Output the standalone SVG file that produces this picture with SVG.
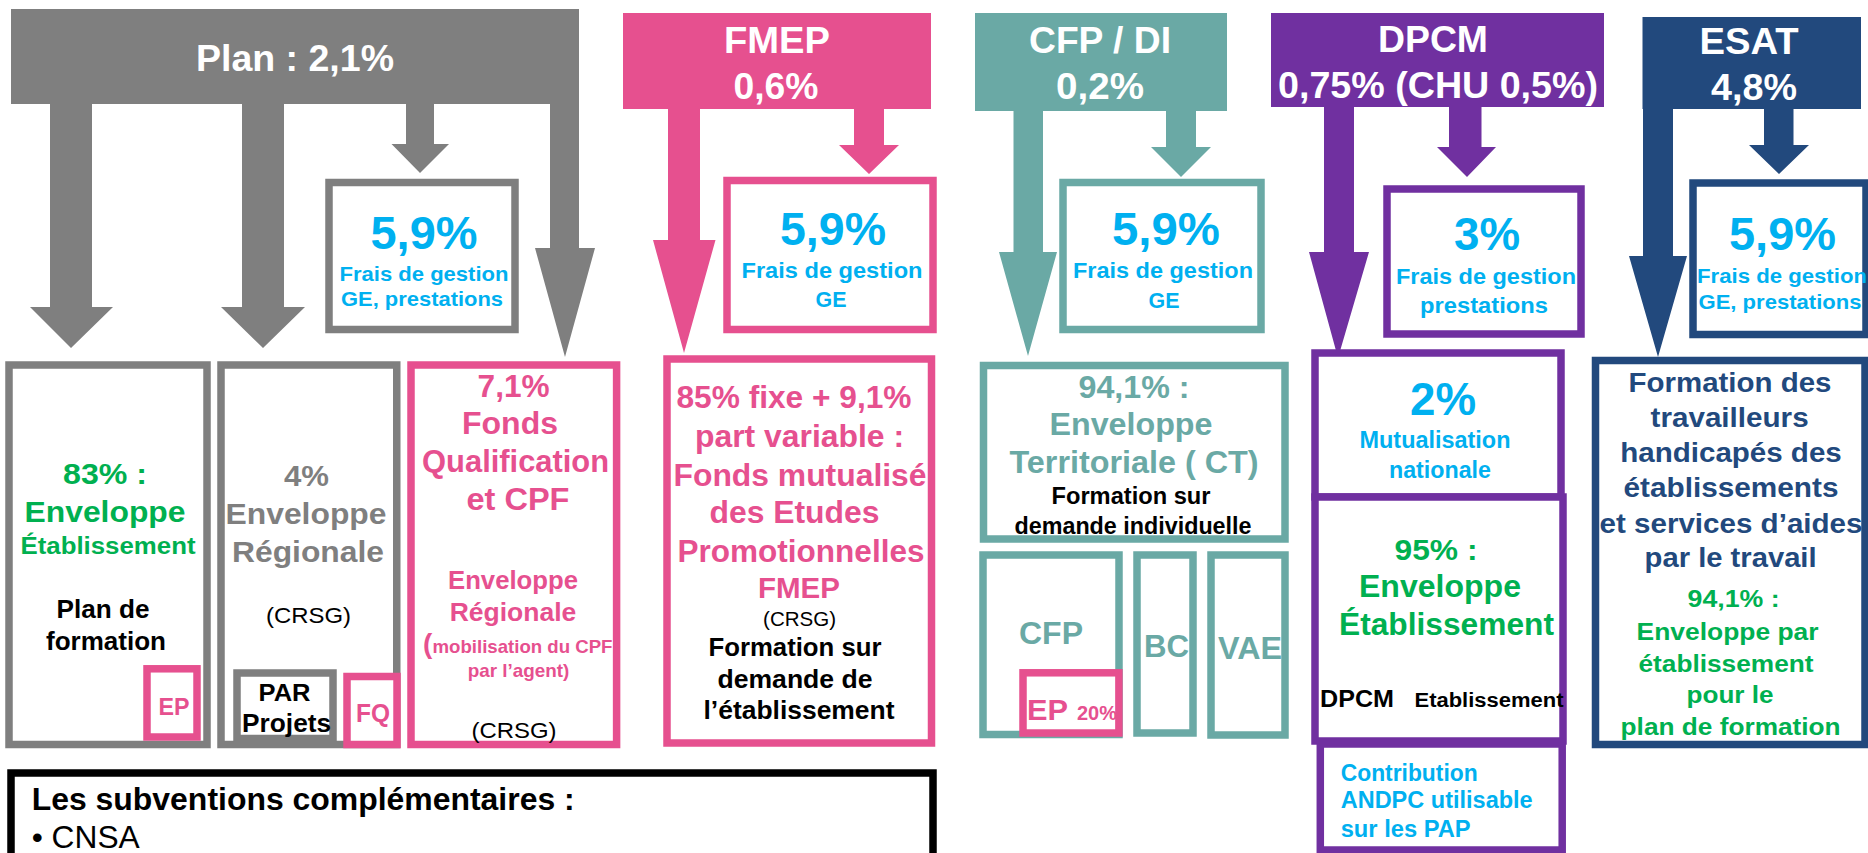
<svg xmlns="http://www.w3.org/2000/svg" width="1868" height="853" viewBox="0 0 1868 853">
<style>
text{font-family:"Liberation Sans",Arial,sans-serif;font-weight:bold;text-anchor:middle}
.r{font-weight:normal}
.st{text-anchor:start}
.box{fill:#fff;stroke-width:7.5}
.wt{fill:#fff;font-size:37px}
.bl{fill:#00B0F0}
.gn{fill:#00B050}
.k{fill:#000}
.gyt{fill:#7F7F7F}
.pkt{fill:#E6508F}
.tlt{fill:#6AA9A5}
.nvt{fill:#22497D}
.gy{stroke:#7F7F7F}
.pk{stroke:#E6508F}
.tl{stroke:#6AA9A5}
.pu{stroke:#7030A0}
.nv{stroke:#22497D}
.bk{stroke:#000}
</style>

<g id="plan-banner">
<rect x="11" y="9" width="568" height="95" fill="#7F7F7F"/>
<text class="wt" x="295" y="71" textLength="198" lengthAdjust="spacingAndGlyphs">Plan : 2,1%</text>
</g>
<g id="fmep-banner">
<rect x="623" y="13" width="308" height="96" fill="#E6508F"/>
<text class="wt" x="777" y="53" textLength="106" lengthAdjust="spacingAndGlyphs">FMEP</text>
<text class="wt" x="776" y="99" textLength="85" lengthAdjust="spacingAndGlyphs">0,6%</text>
</g>
<g id="cfp-banner">
<rect x="975" y="13" width="252" height="98" fill="#6AA9A5"/>
<text class="wt" x="1100" y="53" textLength="142" lengthAdjust="spacingAndGlyphs">CFP / DI</text>
<text class="wt" x="1100" y="99" textLength="88" lengthAdjust="spacingAndGlyphs">0,2%</text>
</g>
<g id="dpcm-banner">
<rect x="1271" y="13" width="333" height="94" fill="#7030A0"/>
<text class="wt" x="1433" y="52" textLength="110" lengthAdjust="spacingAndGlyphs">DPCM</text>
<text class="wt" x="1438" y="98" textLength="320" lengthAdjust="spacingAndGlyphs">0,75% (CHU 0,5%)</text>
</g>
<g id="esat-banner">
<rect x="1642.5" y="17" width="218.5" height="92" fill="#22497D"/>
<text class="wt" x="1749" y="54" textLength="99" lengthAdjust="spacingAndGlyphs">ESAT</text>
<text class="wt" x="1754" y="100" textLength="86" lengthAdjust="spacingAndGlyphs">4,8%</text>
</g>

<g id="connectors">
<polygon fill="#7F7F7F" points="50,104 92,104 92,307 113,307 71,348 30,307 50,307"/>
<polygon fill="#7F7F7F" points="242,104 284,104 284,307 305,307 263,348 221,307 242,307"/>
<polygon fill="#7F7F7F" points="406,104 434,104 434,144 449,144 420,173 391.5,144 406,144"/>
<polygon fill="#7F7F7F" points="550,104 579,104 579,248 595,248 565,357 535,248 550,248"/>
<polygon fill="#E6508F" points="668,109 700,109 700,240 715.5,240 684,353 653,240 668,240"/>
<polygon fill="#E6508F" points="854,109 884,109 884,145 899,145 869,174 839,145 854,145"/>
<polygon fill="#6AA9A5" points="1013.5,111 1043,111 1043,252 1057,252 1028,356 999,252 1013.5,252"/>
<polygon fill="#6AA9A5" points="1166,111 1196,111 1196,147 1211,147 1181,177 1151,147 1166,147"/>
<polygon fill="#7030A0" points="1324,107 1354,107 1354,252 1369,252 1338,358 1309,252 1324,252"/>
<polygon fill="#7030A0" points="1449,107 1481.5,107 1481.5,147 1496,147 1467,177 1437,147 1449,147"/>
<polygon fill="#22497D" points="1643,109 1673,109 1673,256 1687,256 1658,357 1629,256 1643,256"/>
<polygon fill="#22497D" points="1764,109 1793.5,109 1793.5,145 1809,145 1779,174 1749,145 1764,145"/>
</g>

<g id="plan-frais">
<rect class="box gy" x="329" y="182.5" width="186" height="147"/>
<text class="bl" x="424" y="249" font-size="46" textLength="107" lengthAdjust="spacingAndGlyphs">5,9%</text>
<text class="bl" x="424" y="281" font-size="21" textLength="169" lengthAdjust="spacingAndGlyphs">Frais de gestion</text>
<text class="bl" x="422" y="306" font-size="21" textLength="162" lengthAdjust="spacingAndGlyphs">GE, prestations</text>
</g>
<g id="fmep-frais">
<rect class="box pk" x="727" y="180.5" width="206" height="149"/>
<text class="bl" x="833" y="245" font-size="46" textLength="106" lengthAdjust="spacingAndGlyphs">5,9%</text>
<text class="bl" x="832" y="278" font-size="22" textLength="181" lengthAdjust="spacingAndGlyphs">Frais de gestion</text>
<text class="bl" x="831" y="307" font-size="22" textLength="31" lengthAdjust="spacingAndGlyphs">GE</text>
</g>
<g id="cfp-frais">
<rect class="box tl" x="1063" y="182.5" width="198" height="147"/>
<text class="bl" x="1166" y="245" font-size="46" textLength="108" lengthAdjust="spacingAndGlyphs">5,9%</text>
<text class="bl" x="1163" y="278" font-size="22" textLength="180" lengthAdjust="spacingAndGlyphs">Frais de gestion</text>
<text class="bl" x="1164" y="308" font-size="22" textLength="31" lengthAdjust="spacingAndGlyphs">GE</text>
</g>
<g id="dpcm-frais">
<rect class="box pu" x="1387" y="189" width="194" height="145"/>
<text class="bl" x="1487" y="250" font-size="46" textLength="66" lengthAdjust="spacingAndGlyphs">3%</text>
<text class="bl" x="1486" y="284" font-size="22" textLength="180" lengthAdjust="spacingAndGlyphs">Frais de gestion</text>
<text class="bl" x="1484" y="313" font-size="22" textLength="128" lengthAdjust="spacingAndGlyphs">prestations</text>
</g>
<g id="esat-frais">
<rect class="box nv" x="1693" y="183" width="173" height="151.5"/>
<text class="bl" x="1782.5" y="250" font-size="46" textLength="107" lengthAdjust="spacingAndGlyphs">5,9%</text>
<text class="bl" x="1782" y="283" font-size="21" textLength="170" lengthAdjust="spacingAndGlyphs">Frais de gestion</text>
<text class="bl" x="1780" y="309" font-size="21" textLength="163" lengthAdjust="spacingAndGlyphs">GE, prestations</text>
</g>

<g id="enveloppe-etablissement">
<rect class="box gy" x="9" y="365" width="198" height="379.5"/>
<text class="gn" x="105" y="484" font-size="30" textLength="84" lengthAdjust="spacingAndGlyphs">83% :</text>
<text class="gn" x="105" y="522" font-size="30" textLength="161" lengthAdjust="spacingAndGlyphs">Enveloppe</text>
<text class="gn" x="108" y="554" font-size="23" textLength="175" lengthAdjust="spacingAndGlyphs">Établissement</text>
<text class="k" x="103" y="618" font-size="25" textLength="93" lengthAdjust="spacingAndGlyphs">Plan de</text>
<text class="k" x="106" y="650" font-size="25" textLength="120" lengthAdjust="spacingAndGlyphs">formation</text>
</g>
<g id="ep-plan">
<rect class="box pk" x="147" y="668.8" width="50" height="68.2"/>
<text class="pkt" x="174" y="715" font-size="24" textLength="31" lengthAdjust="spacingAndGlyphs">EP</text>
</g>

<g id="enveloppe-regionale">
<rect class="box gy" x="221" y="365" width="175.75" height="379.5"/>
<text class="gyt" x="306.5" y="486" font-size="30" textLength="45" lengthAdjust="spacingAndGlyphs">4%</text>
<text class="gyt" x="306" y="524" font-size="30" textLength="161" lengthAdjust="spacingAndGlyphs">Enveloppe</text>
<text class="gyt" x="308" y="562" font-size="30" textLength="152" lengthAdjust="spacingAndGlyphs">Régionale</text>
<text class="k r" x="308.5" y="623" font-size="22" textLength="85" lengthAdjust="spacingAndGlyphs">(CRSG)</text>
</g>
<g id="par-projets">
<rect class="box gy" x="237" y="673" width="96" height="65.5"/>
<text class="k" x="284.5" y="701" font-size="24" textLength="52" lengthAdjust="spacingAndGlyphs">PAR</text>
<text class="k" x="286.6" y="732" font-size="25" textLength="89" lengthAdjust="spacingAndGlyphs">Projets</text>
</g>
<g id="fq">
<rect class="box pk" x="347" y="676.5" width="50" height="68"/>
<text class="pkt" x="373" y="722" font-size="25" textLength="34" lengthAdjust="spacingAndGlyphs">FQ</text>
</g>

<g id="fonds-qualification">
<rect class="box pk" x="411" y="365" width="205.6" height="379.5"/>
<text class="pkt" x="513.6" y="397" font-size="31" textLength="72" lengthAdjust="spacingAndGlyphs">7,1%</text>
<text class="pkt" x="510" y="434" font-size="31" textLength="96" lengthAdjust="spacingAndGlyphs">Fonds</text>
<text class="pkt" x="515.6" y="472" font-size="31" textLength="187" lengthAdjust="spacingAndGlyphs">Qualification</text>
<text class="pkt" x="518" y="510" font-size="31" textLength="103" lengthAdjust="spacingAndGlyphs">et CPF</text>
<text class="pkt" x="513" y="589" font-size="26" textLength="130" lengthAdjust="spacingAndGlyphs">Enveloppe</text>
<text class="pkt" x="513" y="621" font-size="26" textLength="126.5" lengthAdjust="spacingAndGlyphs">Régionale</text>
<text class="pkt st" x="423" y="653" font-size="19"><tspan font-size="28">(</tspan><tspan x="432.5" textLength="180" lengthAdjust="spacingAndGlyphs">mobilisation du CPF</tspan></text>
<text class="pkt" x="518.6" y="677" font-size="19" textLength="101.6" lengthAdjust="spacingAndGlyphs">par l’agent)</text>
<text class="k r" x="514" y="738" font-size="22" textLength="85" lengthAdjust="spacingAndGlyphs">(CRSG)</text>
</g>

<g id="fmep-fonds">
<rect class="box pk" x="667" y="359" width="264.5" height="384" stroke-width="8"/>
<text class="pkt" x="794" y="408" font-size="31" textLength="235" lengthAdjust="spacingAndGlyphs">85% fixe + 9,1%</text>
<text class="pkt" x="799.5" y="447" font-size="31" textLength="209" lengthAdjust="spacingAndGlyphs">part variable :</text>
<text class="pkt" x="800" y="486" font-size="31" textLength="253" lengthAdjust="spacingAndGlyphs">Fonds mutualisé</text>
<text class="pkt" x="794.5" y="523" font-size="31" textLength="170" lengthAdjust="spacingAndGlyphs">des Etudes</text>
<text class="pkt" x="801" y="562" font-size="31" textLength="247" lengthAdjust="spacingAndGlyphs">Promotionnelles</text>
<text class="pkt" x="799" y="598" font-size="30" textLength="82" lengthAdjust="spacingAndGlyphs">FMEP</text>
<text class="k r" x="799.6" y="626" font-size="21" textLength="73" lengthAdjust="spacingAndGlyphs">(CRSG)</text>
<text class="k" x="795" y="656" font-size="25" textLength="173" lengthAdjust="spacingAndGlyphs">Formation sur</text>
<text class="k" x="795" y="688" font-size="25" textLength="155" lengthAdjust="spacingAndGlyphs">demande de</text>
<text class="k" x="799" y="719" font-size="25" textLength="191" lengthAdjust="spacingAndGlyphs">l’établissement</text>
</g>

<g id="enveloppe-territoriale">
<rect class="box tl" x="983.5" y="365.5" width="301.5" height="173.5"/>
<text class="tlt" x="1134" y="398" font-size="31" textLength="111" lengthAdjust="spacingAndGlyphs">94,1% :</text>
<text class="tlt" x="1131" y="435" font-size="31" textLength="163" lengthAdjust="spacingAndGlyphs">Enveloppe</text>
<text class="tlt" x="1134" y="473" font-size="31" textLength="249" lengthAdjust="spacingAndGlyphs">Territoriale ( CT)</text>
<text class="k" x="1131" y="504" font-size="23" textLength="159" lengthAdjust="spacingAndGlyphs">Formation sur</text>
<text class="k" x="1133" y="534" font-size="23" textLength="237" lengthAdjust="spacingAndGlyphs">demande individuelle</text>
</g>
<g id="cfp">
<rect class="box tl" x="983" y="555" width="136" height="179.5"/>
<text class="tlt" x="1051" y="644" font-size="31" textLength="64" lengthAdjust="spacingAndGlyphs">CFP</text>
</g>
<g id="ep-cfp">
<rect class="box pk" x="1023" y="672.8" width="95.9" height="60.2"/>
<text class="pkt st" x="1027" y="720" font-size="30" textLength="41" lengthAdjust="spacingAndGlyphs">EP</text>
<text class="pkt st" x="1077" y="720" font-size="20" textLength="40" lengthAdjust="spacingAndGlyphs">20%</text>
</g>
<g id="bc">
<rect class="box tl" x="1137" y="555" width="56" height="178"/>
<text class="tlt st" x="1144" y="657" font-size="31" textLength="45" lengthAdjust="spacingAndGlyphs">BC</text>
</g>
<g id="vae">
<rect class="box tl" x="1211" y="555" width="74" height="180"/>
<text class="tlt st" x="1218" y="659" font-size="31" textLength="64" lengthAdjust="spacingAndGlyphs">VAE</text>
</g>

<g id="mutualisation">
<rect class="box pu" x="1315" y="353" width="246" height="144"/>
<text class="bl" x="1443" y="415" font-size="46" textLength="66" lengthAdjust="spacingAndGlyphs">2%</text>
<text class="bl" x="1435" y="448" font-size="23" textLength="151" lengthAdjust="spacingAndGlyphs">Mutualisation</text>
<text class="bl" x="1440" y="478" font-size="23" textLength="102" lengthAdjust="spacingAndGlyphs">nationale</text>
</g>
<g id="dpcm-etablissement">
<rect class="box pu" x="1315" y="497" width="248" height="244"/>
<text class="gn" x="1436" y="560" font-size="30" textLength="83" lengthAdjust="spacingAndGlyphs">95% :</text>
<text class="gn" x="1440" y="597" font-size="31" textLength="162" lengthAdjust="spacingAndGlyphs">Enveloppe</text>
<text class="gn" x="1446.5" y="635" font-size="31" textLength="215" lengthAdjust="spacingAndGlyphs">Établissement</text>
<text class="k" x="1357" y="707" font-size="24" textLength="74" lengthAdjust="spacingAndGlyphs">DPCM</text>
<text class="k" x="1489" y="707" font-size="20" textLength="149" lengthAdjust="spacingAndGlyphs">Etablissement</text>
</g>
<g id="andpc">
<rect class="box pu" x="1320.3" y="744" width="241.9" height="106" stroke-width="6"/>
<text class="bl st" x="1340.7" y="781" font-size="23" textLength="137" lengthAdjust="spacingAndGlyphs">Contribution</text>
<text class="bl st" x="1340.7" y="808" font-size="23" textLength="192" lengthAdjust="spacingAndGlyphs">ANDPC  utilisable</text>
<text class="bl st" x="1340.7" y="837" font-size="23" textLength="130" lengthAdjust="spacingAndGlyphs">sur les PAP</text>
</g>

<g id="esat-formation">
<rect class="box nv" x="1595.5" y="360.5" width="269.5" height="384"/>
<text class="nvt" x="1730" y="392" font-size="28" textLength="203" lengthAdjust="spacingAndGlyphs">Formation des</text>
<text class="nvt" x="1729.6" y="427" font-size="28" textLength="158" lengthAdjust="spacingAndGlyphs">travailleurs</text>
<text class="nvt" x="1731" y="462" font-size="28" textLength="221.5" lengthAdjust="spacingAndGlyphs">handicapés des</text>
<text class="nvt" x="1731" y="497" font-size="28" textLength="215" lengthAdjust="spacingAndGlyphs">établissements</text>
<text class="nvt" x="1731" y="533" font-size="28" textLength="263" lengthAdjust="spacingAndGlyphs">et services d’aides</text>
<text class="nvt" x="1730.6" y="567" font-size="28" textLength="172" lengthAdjust="spacingAndGlyphs">par le travail</text>
<text class="gn" x="1733.6" y="607" font-size="23" textLength="92" lengthAdjust="spacingAndGlyphs">94,1%  :</text>
<text class="gn" x="1727.6" y="640" font-size="23" textLength="182" lengthAdjust="spacingAndGlyphs">Enveloppe par</text>
<text class="gn" x="1726" y="672" font-size="23" textLength="175" lengthAdjust="spacingAndGlyphs">établissement</text>
<text class="gn" x="1730" y="703" font-size="23" textLength="87" lengthAdjust="spacingAndGlyphs">pour le</text>
<text class="gn" x="1730.6" y="735" font-size="23" textLength="220" lengthAdjust="spacingAndGlyphs">plan de formation</text>
</g>

<g id="subventions">
<rect class="box bk" x="11" y="773" width="922" height="130"/>
<text class="k st" x="31.7" y="810" font-size="32" textLength="543" lengthAdjust="spacingAndGlyphs">Les subventions complémentaires :</text>
<text class="k r st" x="31.7" y="848" font-size="32" textLength="108" lengthAdjust="spacingAndGlyphs">• CNSA</text>
</g>
</svg>
